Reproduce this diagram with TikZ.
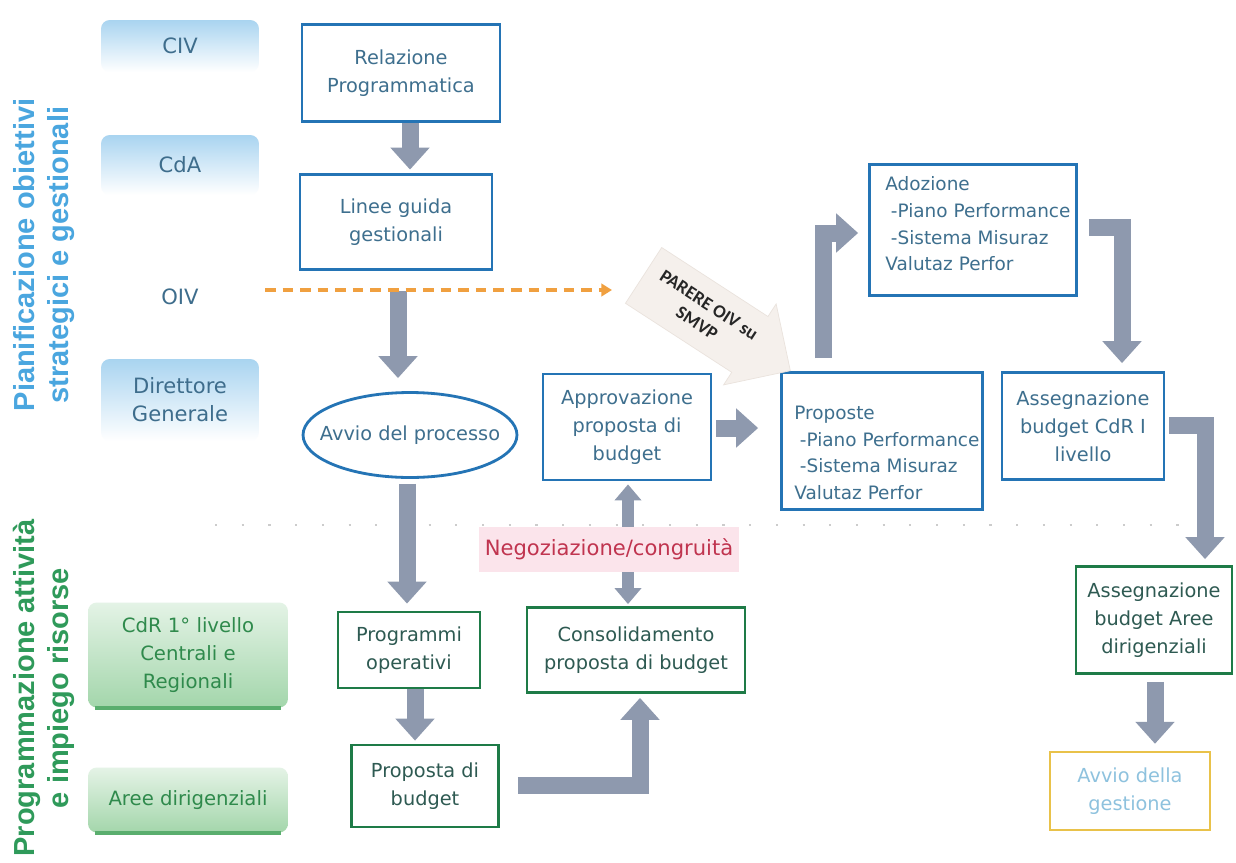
\documentclass[tikz,border=0pt]{standalone}
\usepackage{fontspec}
\setmainfont{DejaVu Sans}
\newfontfamily\lanefont{Liberation Sans}
\newfontfamily\notefont{Carlito}
\usetikzlibrary{arrows.meta,shapes.geometric,shapes.arrows}

\definecolor{boxblue}{HTML}{2474B5}
\definecolor{bluetext}{HTML}{3E6F8E}
\definecolor{boxgreen}{HTML}{1E7B47}
\definecolor{greentext}{HTML}{2E5A52}
\definecolor{flowgray}{HTML}{8E99AE}
\definecolor{lanegreen}{HTML}{2F9A5A}
\definecolor{laneblue}{HTML}{4AA6DF}
\definecolor{actorblue}{HTML}{A9D4F0}
\definecolor{actortext}{HTML}{3E6D8C}
\definecolor{actorgreen}{HTML}{A3D6AB}
\definecolor{actorgreenlight}{HTML}{E4F3E6}
\definecolor{actorgreenedge}{HTML}{5AAE6E}
\definecolor{actorgreentext}{HTML}{2F8A4C}
\definecolor{oivorange}{HTML}{F0A040}
\definecolor{negbg}{HTML}{FBE4EB}
\definecolor{negtext}{HTML}{C0344F}
\definecolor{startgold}{HTML}{E9C24A}
\definecolor{starttext}{HTML}{8EC2DE}
\definecolor{parerefill}{HTML}{F5F0EC}
\definecolor{pareredge}{HTML}{EAE3DD}

\tikzset{
  bluebox/.style={draw=boxblue, line width=1.6pt, fill=white, inner sep=0pt,
    align=center, text=bluetext, font=\fontsize{11}{16}\selectfont},
  greenbox/.style={draw=boxgreen, line width=1.6pt, fill=white, inner sep=0pt,
    align=center, text=greentext, font=\fontsize{11}{16}\selectfont},
  startbox/.style={draw=startgold, line width=1.4pt, fill=white, inner sep=0pt,
    align=center, text=starttext, font=\fontsize{11}{16}\selectfont},
  listtext/.style={anchor=west, align=left, text=bluetext, inner sep=0pt,
    font=\fontsize{10.5}{15.2}\selectfont},
  actor/.style={rounded corners=5pt, top color=actorblue, bottom color=white,
    minimum width=3.16cm, text=actortext, align=center,
    font=\fontsize{12}{16}\selectfont},
  actorg/.style={rounded corners=5pt, top color=actorgreenlight, bottom color=actorgreen,
    minimum width=4cm, text=actorgreentext, align=center,
    font=\fontsize{11.2}{16}\selectfont},
  lanelabel/.style={rotate=90, align=center,
    font=\lanefont\bfseries\fontsize{16.5}{19}\selectfont},
  flow/.style={draw=flowgray, line width=0.34cm, line join=miter,
    -{Triangle[width=0.76cm,length=0.44cm]}},
  flowdbl/.style={draw=flowgray, line width=0.24cm,
    {Triangle[width=0.52cm,length=0.32cm]}-{Triangle[width=0.52cm,length=0.32cm]}},
  oivline/.style={draw=oivorange, line width=1.8pt, dash pattern=on 6pt off 4pt,
    -{Triangle[width=7pt,length=6pt]}}
}

\begin{document}
\begin{tikzpicture}[x=0.02cm, y=-0.02cm]
\useasboundingbox (0,0) rectangle (1236,862);
\fill[white] (0,0) rectangle (1236,862);

% swim-lane separator
\coordinate (sepL) at (215,525);
\coordinate (sepR) at (1225,525);
\draw[gray!40, line width=1pt, dash pattern=on 1.2pt off 14pt] (sepL) -- (sepR);

% lane titles
\node[lanelabel, text=laneblue] (lanetop) at (44,255) {Pianificazione obiettivi\\strategici e gestionali};
\node[lanelabel, text=lanegreen] (lanebot) at (44,688) {Programmazione attività\\e impiego risorse};

% actors
\node[actor, minimum height=1.04cm] (civ) at (180,46) {CIV};
\node[actor, minimum height=1.2cm] (cda) at (180,165) {CdA};
\node[text=actortext, font=\fontsize{12}{16}\selectfont] (oiv) at (180,297) {OIV};
\node[actor, minimum height=1.64cm] (dg) at (180,400) {Direttore\\Generale};
\node[actorg, minimum height=2.1cm] (cdr) at (188,655) {CdR 1° livello\\Centrali e\\Regionali};
\node[actorg, minimum height=1.3cm] (aree) at (188,800) {Aree dirigenziali};
\draw[actorgreenedge, line width=2pt] ([xshift=4pt]cdr.south west) -- ([xshift=-4pt]cdr.south east);
\draw[actorgreenedge, line width=2pt] ([xshift=4pt]aree.south west) -- ([xshift=-4pt]aree.south east);

% process steps
\node[bluebox, minimum width=3.96cm, minimum height=1.94cm] (rel) at (401,73) {Relazione\\Programmatica};
\node[bluebox, minimum width=3.84cm, minimum height=1.9cm] (lin) at (396,222) {Linee guida\\gestionali};
\node[bluebox, ellipse, inner xsep=-9.5pt, inner ysep=0pt, minimum width=4.28cm, minimum height=1.7cm] (avv) at (410,435) {Avvio del processo};
\node[bluebox, minimum width=3.36cm, minimum height=2.12cm] (app) at (627,427) {Approvazione\\proposta di\\budget};
\node[bluebox, minimum width=4.02cm, minimum height=2.74cm] (prop) at (882,441) {};
\node[listtext] (proptxt) at (794,453) {Proposte\\\hspace{0.3em}-Piano Performance\\\hspace{0.3em}-Sistema Misuraz\\Valutaz Perfor};
\node[bluebox, minimum width=4.14cm, minimum height=2.62cm] (ado) at (973,230) {};
\node[listtext] (adotxt) at (885,224) {Adozione\\\hspace{0.3em}-Piano Performance\\\hspace{0.3em}-Sistema Misuraz\\Valutaz Perfor};
\node[bluebox, minimum width=3.24cm, minimum height=2.14cm] (acdr) at (1083,426) {Assegnazione\\budget CdR I\\livello};

\node[greenbox, minimum width=2.84cm, minimum height=1.52cm] (pop) at (409,650) {Programmi\\operativi};
\node[greenbox, minimum width=4.36cm, minimum height=1.7cm] (cons) at (636,650) {Consolidamento\\proposta di budget};
\node[greenbox, minimum width=2.94cm, minimum height=1.64cm] (pbud) at (425,786) {Proposta di\\budget};
\node[greenbox, minimum width=3.12cm, minimum height=2.14cm] (aaree) at (1154,620) {Assegnazione\\budget Aree\\dirigenziali};
\node[startbox, minimum width=3.2cm, minimum height=1.56cm] (gest) at (1130,791) {Avvio della\\gestione};

% flow arrows
\draw[flow, shorten >=2pt] (rel.south -| 410,0) -- (lin.north -| 410,0);
\draw[flow, shorten <=0.4cm, shorten >=0.26cm] (lin.south -| 398,0) -- (avv.north -| 398,0);
\draw[flow, shorten <=0.1cm, shorten >=0.14cm] (avv.south -| 407,0) -- (pop.north -| 407,0);
\draw[flow, shorten >=0.06cm] (pop.south -| 415,0) -- (pbud.north -| 415,0);
\draw[flow, shorten <=0.36cm, shorten >=0.08cm] (pbud.east |- 0,785) -| (cons.south -| 640,0);
\draw[flowdbl, shorten <=0.06cm, shorten >=0.04cm] (app.south -| 628,0) -- (cons.north -| 628,0);
\draw[flow, shorten <=0.08cm, shorten >=0.44cm] (app.east |- 0,428) -- (prop.west |- 0,428);
\draw[flow, shorten <=0.26cm, shorten >=0.2cm] (prop.north -| 823,0) |- (ado.west |- 0,233);
\draw[flow, shorten <=0.22cm, shorten >=0.16cm] (ado.east |- 0,227) -| (acdr.north -| 1122,0);
\draw[flow, shorten <=0.08cm, shorten >=0.12cm] (acdr.east |- 0,425) -| (aaree.north -| 1205,0);
\draw[flow, shorten <=0.14cm, shorten >=0.14cm] (aaree.south -| 1155,0) -- (gest.north -| 1155,0);

% negotiation label over the two-way arrow
\node[fill=negbg, text=negtext, font=\fontsize{12}{14}\selectfont, minimum width=5.04cm, minimum height=0.9cm] (neg) at (609,549) {Negoziazione/congruità};

% OIV opinion
\coordinate (oivfrom) at (265,290);
\coordinate (oivto) at (612,290);
\draw[oivline] (oivfrom) -- (oivto);
\node[single arrow, fill=parerefill, draw=pareredge, rotate=-33, minimum height=3.5cm,
  single arrow head extend=0.3cm, inner xsep=4pt, inner ysep=9pt, align=center,
  text=black!85, font=\notefont\bfseries\fontsize{10.5}{12.5}\selectfont] (parere) at (703,314) {PARERE OIV su\\SMVP};
\end{tikzpicture}
\end{document}
